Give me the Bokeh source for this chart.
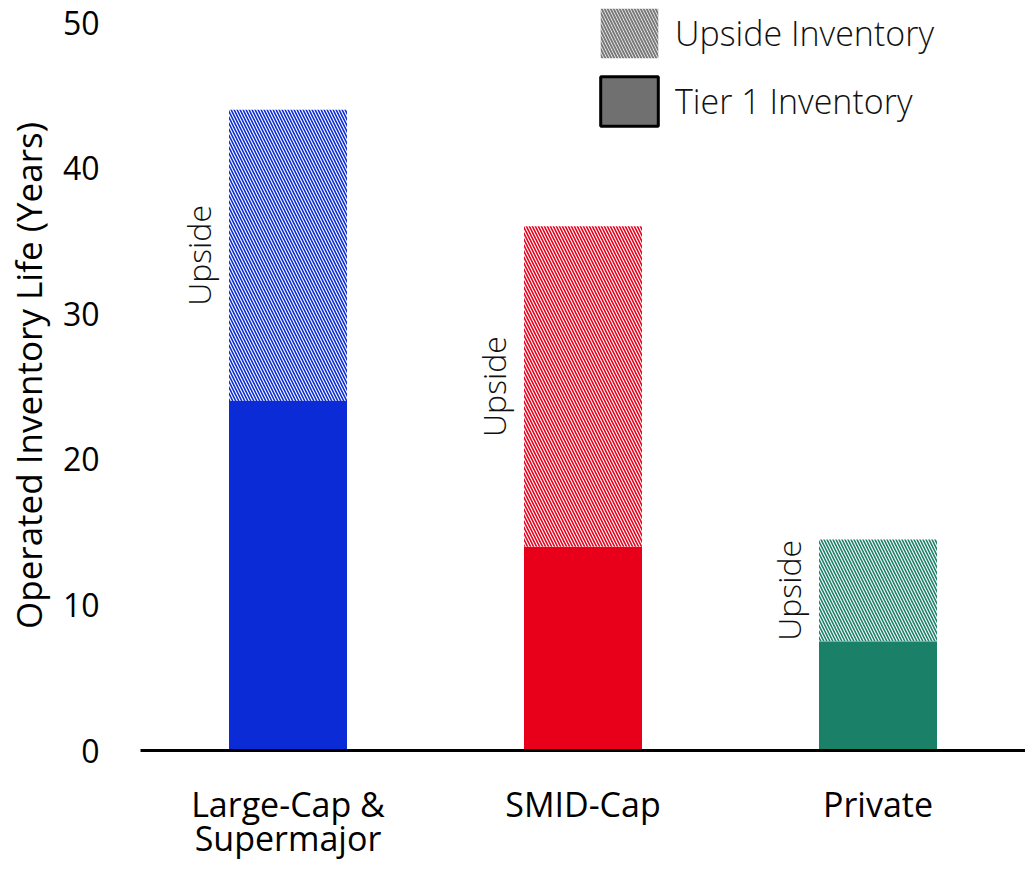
import math
from bokeh.plotting import figure
from bokeh.models import ColumnDataSource, FactorRange, Range1d, Legend, LegendItem
from bokeh.core.properties import value
from bokeh.embed import file_html
from bokeh.resources import INLINE

categories = ["Large-Cap &\nSupermajor", "SMID-Cap", "Private"]
tier1 = [24, 14, 7.5]
total = [44, 36, 14.5]
colors = ["#0A2BD6", "#E8001B", "#1A8068"]
upside_label = ["Upside", "Upside", "Upside"]
y_ticks = [0, 10, 20, 30, 40, 50]

FONT = "Open Sans"
LIGHT = "'Open Sans Light', 'Open Sans'"

mid = [(a + b) / 2 for a, b in zip(tier1, total)]
src = ColumnDataSource(dict(cat=categories, tier1=tier1, total=total,
                            color=colors, mid=mid, lab=upside_label))

# frame starts at the very top so the legend (clipped to the frame) fits;
# the axis still reads 0-50 with 50 sitting ~22px below the top.
p = figure(x_range=FactorRange(*categories), y_range=Range1d(0, 51.51),
           width=1025, height=870, output_backend="svg", toolbar_location=None,
           min_border_left=140, min_border_right=0, min_border_top=0,
           min_border_bottom=120)

p.vbar(x="cat", bottom=0, top="tier1", width=0.4, source=src,
       fill_color="color", line_color=None)
p.vbar(x="cat", bottom="tier1", top="total", width=0.4, source=src,
       fill_color="white", line_color=None, hatch_pattern="\\",
       hatch_color="color", hatch_scale=6, hatch_weight=1.6)

p.text(x="cat", y="mid", text="lab", source=src, x_offset=-90,
       angle=math.pi / 2, text_align="center", text_baseline="middle",
       text_font=value(LIGHT), text_font_size="32px", text_color="#111111")

# legend proxies (hidden renderers that only supply the legend swatches)
r_up = p.vbar(x=categories[:1], top=total[:1], width=0.4, fill_color="white",
              line_color=None, hatch_pattern="\\", hatch_color="#7a7a7a",
              hatch_scale=6, hatch_weight=2, visible=False)
r_t1 = p.vbar(x=categories[:1], top=tier1[:1], width=0.4, fill_color="#707070",
              line_color="black", line_width=3, visible=False)
legend = Legend(items=[LegendItem(label="Upside Inventory", renderers=[r_up]),
                       LegendItem(label="Tier 1 Inventory", renderers=[r_t1])],
                location=(453, 618), glyph_width=72, glyph_height=62,
                label_height=62, label_standoff=10, spacing=6, padding=0,
                margin=0, border_line_color=None, background_fill_alpha=0,
                label_text_font=LIGHT, label_text_font_size="34px",
                label_text_color="#111111", label_text_baseline="middle")
p.add_layout(legend)

p.grid.visible = False
p.outline_line_color = None

p.xaxis.axis_line_color = "black"
p.xaxis.axis_line_width = 3
p.xaxis.major_tick_line_color = None
p.xaxis.minor_tick_line_color = None
p.xaxis.major_label_standoff = 24
p.xaxis.major_label_text_font = FONT
p.xaxis.major_label_text_font_size = "34px"
p.xaxis.major_label_text_line_height = 0.74
p.xaxis.major_label_text_color = "black"

p.yaxis.ticker = y_ticks
p.yaxis.axis_line_color = None
p.yaxis.major_tick_line_color = None
p.yaxis.minor_tick_line_color = None
p.yaxis.major_label_standoff = 35
p.yaxis.major_label_text_font = FONT
p.yaxis.major_label_text_font_size = "32px"
p.yaxis.major_label_text_color = "black"
p.yaxis.axis_label = "Operated Inventory Life (Years)"
p.yaxis.axis_label_text_font = FONT
p.yaxis.axis_label_text_font_style = "normal"
p.yaxis.axis_label_text_font_size = "35px"
p.yaxis.axis_label_text_color = "black"
p.yaxis.axis_label_standoff = 8

open("out.html", "w").write(file_html(p, INLINE))
